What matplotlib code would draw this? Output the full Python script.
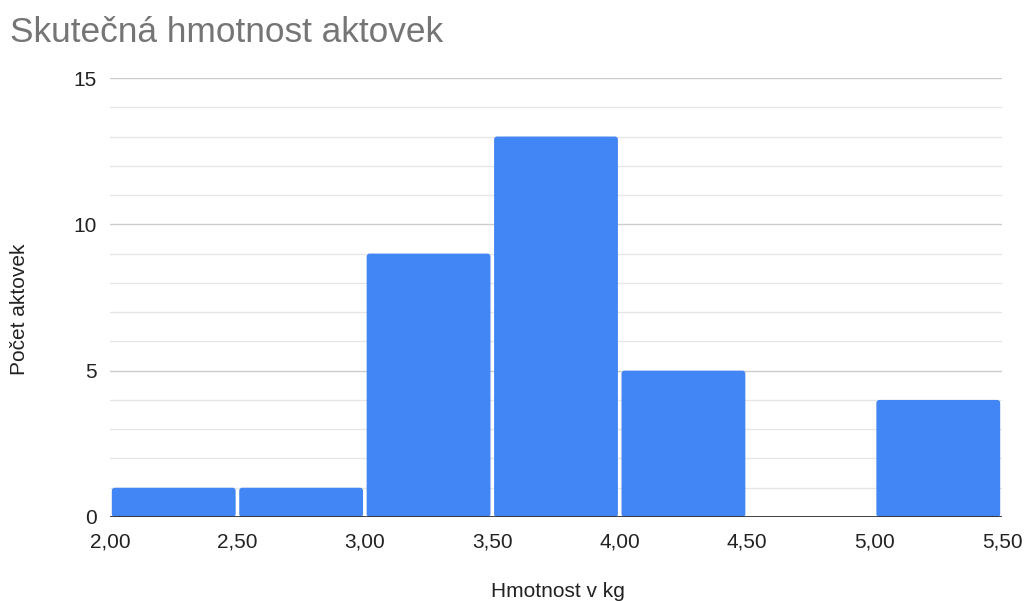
import matplotlib
matplotlib.use("Agg")
import matplotlib.pyplot as plt
from matplotlib.patches import FancyBboxPatch
from matplotlib.ticker import MultipleLocator, FuncFormatter

plt.rcParams["font.family"] = ["Liberation Sans", "DejaVu Sans"]

# Histogram data: bin edges (kg) and counts of school bags per bin
bin_edges = [2.0, 2.5, 3.0, 3.5, 4.0, 4.5, 5.0, 5.5]
counts = [1, 1, 9, 13, 5, 0, 4]
x_ticks = [2.0, 2.5, 3.0, 3.5, 4.0, 4.5, 5.0, 5.5]
y_ticks = [0, 5, 10, 15]

title = "Skutečná hmotnost aktovek"
x_label = "Hmotnost v kg"
y_label = "Počet aktovek"

bar_color = "#4285f4"
W, H = 1027, 601

fig = plt.figure(figsize=(W / 100, H / 100), dpi=100)
ax = fig.add_axes([110 / W, 1 - 517 / H, 892 / W, 439 / H])
ax.set_xlim(bin_edges[0], bin_edges[-1])
ax.set_ylim(0, 15)

# pixel -> data unit conversions for small gaps and corner rounding
px_x = (bin_edges[-1] - bin_edges[0]) / 892
px_y = 15 / 439
gap = 1.8 * px_x
for left, right, c in zip(bin_edges[:-1], bin_edges[1:], counts):
    if c <= 0:
        continue
    patch = FancyBboxPatch(
        (left + gap, 0), (right - left) - 2 * gap, c,
        boxstyle=f"round,pad=0,rounding_size={3 * px_x}",
        mutation_aspect=px_y / px_x,
        facecolor=bar_color, edgecolor="none", zorder=3,
    )
    ax.add_patch(patch)

# Grid: minor every 1, major every 5
ax.yaxis.set_major_locator(MultipleLocator(5))
ax.yaxis.set_minor_locator(MultipleLocator(1))
for v in range(1, 16):
    col = "#cccccc" if v % 5 == 0 else "#e6e6e6"
    ax.axhline(v, color=col, linewidth=1.0, zorder=1)
ax.axhline(0, color="#333333", linewidth=1.3, zorder=4)

for s in ax.spines.values():
    s.set_visible(False)

ax.set_yticks(y_ticks)
ax.set_xticks(x_ticks)
ax.xaxis.set_major_formatter(FuncFormatter(lambda v, p: f"{v:.2f}".replace(".", ",")))
ax.tick_params(axis="both", which="both", length=0, labelsize=15, colors="#222222")
ax.tick_params(axis="y", pad=9.5)
ax.tick_params(axis="x", pad=11)

fig.text(558 / W, 1 - 597 / H, x_label, fontsize=15, color="#222222",
         ha="center", va="baseline")
fig.text(20 / W, 1 - 309.5 / H, y_label, fontsize=15, color="#222222",
         ha="center", va="center", rotation=90)

fig.text(10 / W, 1 - 41.5 / H, title, fontsize=25.4, color="#757575",
         ha="left", va="baseline")

fig.savefig("out.png", dpi=100)
